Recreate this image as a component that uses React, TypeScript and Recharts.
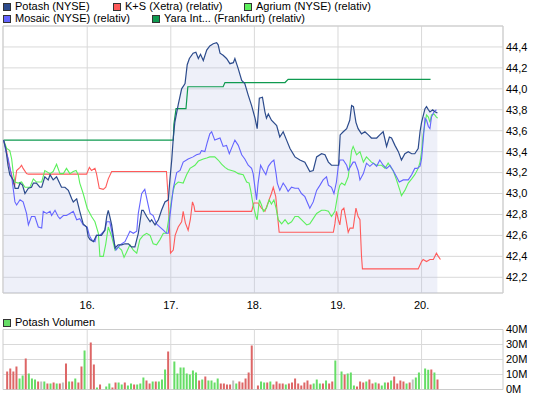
import React from 'react';
import {
  ComposedChart,
  Line,
  Area,
  Bar,
  Cell,
  XAxis,
  YAxis,
  CartesianGrid,
  ReferenceArea,
  ReferenceLine,
} from 'recharts';

const FONT = '"Liberation Sans", Arial, sans-serif';

// x axis: 15-minute trading slots, 27 per day (day 15 starts at 0)
const dayTicks = [27, 54, 81, 108, 135];
const dayLabels = ['16.', '17.', '18.', '19.', '20.'];
const priceTicks = [42.2, 42.4, 42.6, 42.8, 43.0, 43.2, 43.4, 43.6, 43.8, 44.0, 44.2, 44.4];
const volumeTicks = [0, 10, 20, 30, 40];
const X_DOMAIN: [number, number] = [-0.2, 161.3];
const Y_DOMAIN: [number, number] = [42.05, 44.6];
const V_DOMAIN: [number, number] = [0, 40];

// [slot, value]
const potash: [number, number][] = [
  [0, 43.51], [0.7, 43.43], [1.4, 43.27], [2.0, 43.18], [3.1, 43.13], [3.7, 43.05], [4.7, 43.05], [5.3, 43.1], [6.1, 43.08], [6.9, 43.0],
  [8.0, 43.05], [9.0, 43.06], [9.6, 43.1], [10.6, 43.1], [11.7, 43.06], [12.3, 43.06], [13.3, 43.16], [14.4, 43.13], [15.0, 43.18], [16.0, 43.13],
  [17.1, 43.16], [17.6, 43.13], [18.7, 43.06], [19.8, 43.06], [20.9, 43.03], [22.0, 42.95], [22.5, 42.92], [23.6, 42.95], [24.6, 42.83], [25.7, 42.71],
  [26.8, 42.68], [27.3, 42.59], [27.9, 42.56], [29.0, 42.54], [30.0, 42.6], [31.6, 42.6], [32.7, 42.65], [33.3, 42.78], [33.8, 42.84], [34.3, 42.78],
  [34.9, 42.7], [36.0, 42.48], [37.0, 42.51], [38.1, 42.51], [39.2, 42.52], [40.3, 42.52], [41.3, 42.49], [42.4, 42.49], [43.5, 42.62], [44.6, 42.84],
  [45.1, 42.84], [46.2, 42.78], [47.3, 42.73], [47.8, 42.75], [48.9, 42.7], [50.0, 42.75], [51.0, 42.84], [52.1, 42.92], [53.2, 42.94], [53.7, 43.13],
  [54.3, 43.32], [54.8, 43.53], [55.3, 43.68], [56.4, 43.85], [57.5, 44.0], [58.6, 44.05], [59.3, 44.23], [60.0, 44.29], [61.2, 44.34], [62.1, 44.35],
  [62.9, 44.29], [63.6, 44.33], [64.5, 44.27], [65.6, 44.37], [66.6, 44.41], [67.7, 44.43], [68.8, 44.44], [69.3, 44.42], [69.9, 44.34], [70.9, 44.32],
  [72.0, 44.29], [73.1, 44.24], [74.2, 44.25], [74.7, 44.29], [75.8, 44.19], [76.9, 44.08], [77.9, 44.05], [79.0, 43.94], [80.1, 43.84], [81.2, 43.72],
  [81.9, 43.62], [82.6, 43.91], [83.6, 43.92], [84.4, 43.78], [84.9, 43.72], [85.5, 43.76], [86.5, 43.7], [88.2, 43.65], [89.2, 43.54], [90.3, 43.59],
  [91.4, 43.51], [92.5, 43.43], [94.1, 43.35], [95.7, 43.32], [97.3, 43.3], [98.9, 43.21], [100.0, 43.22], [101.1, 43.35], [102.7, 43.38], [103.8, 43.37],
  [104.9, 43.3], [105.9, 43.27], [107.5, 43.27], [108.2, 43.27], [108.7, 43.56], [109.7, 43.59], [110.8, 43.62], [111.8, 43.7], [112.4, 43.84], [113.0, 43.83],
  [113.8, 43.68], [114.5, 43.62], [115.6, 43.57], [116.7, 43.59], [117.8, 43.56], [118.8, 43.53], [120.5, 43.53], [121.5, 43.56], [122.6, 43.59], [123.7, 43.45],
  [124.6, 43.54], [125.3, 43.53], [126.4, 43.46], [127.5, 43.4], [128.5, 43.32], [129.6, 43.38], [130.7, 43.4], [131.8, 43.38], [132.8, 43.38], [133.9, 43.43],
  [134.5, 43.59], [135.0, 43.68], [136.1, 43.81], [136.6, 43.83], [137.2, 43.8], [137.7, 43.78], [138.6, 43.8], [139.3, 43.78], [140.1, 43.77],
];

const yaraRel: [number, number][] = [
  [0, 43.51], [54.8, 43.51], [55.0, 43.66], [55.7, 43.81], [58.9, 43.81], [59.5, 44.02], [70.9, 44.02], [71.5, 44.06],
  [90.9, 44.06], [91.9, 44.09], [137.9, 44.09],
];

const ksRel: [number, number][] = [
  [0, 43.51], [1.0, 43.4], [1.5, 43.3], [2.6, 43.18], [3.1, 43.1], [3.6, 43.08], [4.2, 43.22], [5.3, 43.25], [5.8, 43.27], [6.3, 43.24],
  [7.4, 43.19], [8.0, 43.185], [26.8, 43.185], [27.7, 43.25], [28.4, 43.22], [29.5, 43.24], [30.0, 43.19], [30.9, 43.05], [32.2, 43.04], [33.0, 43.06],
  [33.8, 43.14], [34.9, 43.21], [52.6, 43.21], [53.2, 42.94], [53.9, 42.43], [54.8, 42.46], [55.4, 42.6], [56.4, 42.68], [57.5, 42.73], [58.0, 42.83],
  [58.7, 42.72], [59.6, 42.65], [60.3, 42.75], [61.0, 42.92], [61.5, 42.88], [61.8, 42.83], [80.1, 42.83], [80.8, 42.91], [82.2, 42.91], [83.3, 42.86],
  [84.4, 42.83], [85.5, 42.92], [86.5, 43.0], [87.1, 43.06], [87.9, 42.97], [88.4, 42.81], [89.0, 42.63], [106.5, 42.63], [107.0, 42.71], [107.5, 42.83],
  [108.1, 42.75], [108.6, 42.7], [109.2, 42.84], [109.9, 42.86], [110.6, 42.75], [111.3, 42.63], [111.9, 42.67], [112.9, 42.67], [113.8, 42.86], [114.5, 42.78],
  [115.1, 42.75], [115.6, 42.4], [115.9, 42.28], [133.9, 42.28], [135.0, 42.35], [135.5, 42.37], [136.6, 42.35], [137.7, 42.37], [138.8, 42.37], [139.8, 42.43],
  [140.4, 42.4], [141.1, 42.37],
];

const agriumRel: [number, number][] = [
  [0, 43.51], [1.0, 43.43], [2.0, 43.41], [2.6, 43.33], [3.1, 43.2], [3.65, 43.11], [4.7, 43.1], [5.8, 43.11], [6.9, 43.06], [8.5, 43.06],
  [9.6, 43.14], [10.6, 43.11], [12.3, 43.11], [13.3, 43.22], [15.0, 43.19], [16.0, 43.21], [17.1, 43.28], [18.2, 43.19], [19.3, 43.19], [20.3, 43.24],
  [21.4, 43.19], [22.5, 43.21], [23.4, 43.22], [24.1, 43.18], [24.6, 43.1], [25.7, 43.0], [27.0, 42.86], [28.4, 42.78], [29.5, 42.73], [30.6, 42.62],
  [31.1, 42.4], [32.2, 42.4], [33.0, 42.52], [33.8, 42.68], [34.9, 42.59], [36.0, 42.46], [37.0, 42.49], [38.1, 42.46], [38.9, 42.39], [39.7, 42.44],
  [40.8, 42.51], [41.9, 42.46], [43.0, 42.43], [44.0, 42.56], [45.1, 42.6], [46.2, 42.62], [47.3, 42.6], [48.3, 42.52], [49.4, 42.51], [50.5, 42.56],
  [51.6, 42.62], [52.6, 42.62], [53.7, 42.83], [54.3, 42.95], [54.8, 43.03], [55.3, 43.08], [56.4, 43.11], [58.0, 43.1], [59.1, 43.18], [60.2, 43.24],
  [61.8, 43.27], [62.9, 43.31], [64.5, 43.33], [65.6, 43.34], [66.6, 43.35], [68.2, 43.35], [69.3, 43.32], [70.4, 43.28], [71.5, 43.25], [72.5, 43.23],
  [73.6, 43.22], [74.7, 43.21], [75.8, 43.19], [77.4, 43.18], [78.5, 43.11], [79.3, 43.1], [79.8, 43.03], [80.6, 42.89], [81.5, 42.78], [81.9, 42.75],
  [82.6, 42.94], [83.3, 42.89], [83.9, 42.83], [84.9, 42.86], [85.8, 42.94], [86.5, 42.9], [87.3, 42.94], [88.0, 42.86], [88.7, 42.75], [89.8, 42.71],
  [90.9, 42.75], [91.9, 42.71], [93.0, 42.73], [94.1, 42.78], [95.2, 42.78], [96.2, 42.75], [97.9, 42.7], [98.9, 42.71], [100.0, 42.76], [101.1, 42.81],
  [102.7, 42.84], [103.8, 42.84], [104.9, 42.83], [105.9, 42.78], [107.0, 42.83], [108.1, 43.02], [108.6, 43.08], [109.2, 43.1], [110.2, 43.08], [111.3, 43.16],
  [111.9, 43.29], [112.4, 43.41], [112.9, 43.45], [114.0, 43.37], [115.1, 43.4], [116.2, 43.3], [117.2, 43.35], [118.8, 43.3], [120.5, 43.27], [122.1, 43.27],
  [123.2, 43.24], [124.2, 43.29], [125.3, 43.24], [125.8, 43.22], [126.9, 43.13], [128.0, 43.03], [128.5, 42.98], [129.6, 43.03], [130.7, 43.1], [131.8, 43.14],
  [132.8, 43.18], [133.9, 43.24], [134.5, 43.3], [135.0, 43.4], [135.5, 43.56], [136.1, 43.67], [136.6, 43.75], [137.2, 43.73], [137.7, 43.68], [138.2, 43.75],
  [139.0, 43.76], [139.8, 43.73], [140.2, 43.72],
];

const mosaicRel: [number, number][] = [
  [0, 43.51], [0.7, 43.41], [1.5, 43.33], [2.6, 43.16], [3.65, 42.92], [4.2, 42.89], [5.3, 42.94], [6.3, 42.92], [7.4, 42.81], [8.0, 42.7],
  [9.0, 42.78], [10.1, 42.78], [11.2, 42.68], [12.3, 42.67], [12.8, 42.83], [13.9, 42.81], [15.0, 42.83], [15.5, 42.79], [16.6, 42.84], [17.6, 42.78],
  [18.2, 42.76], [19.3, 42.79], [20.3, 42.79], [21.4, 42.81], [22.5, 42.83], [23.6, 42.75], [24.6, 42.76], [25.7, 42.7], [27.0, 42.68], [27.7, 42.6],
  [28.4, 42.56], [29.5, 42.54], [30.0, 42.6], [31.1, 42.6], [32.7, 42.65], [33.3, 42.73], [34.3, 42.73], [35.4, 42.57], [36.3, 42.46], [37.6, 42.51],
  [39.2, 42.54], [40.8, 42.64], [41.9, 42.62], [43.0, 42.64], [43.5, 42.81], [44.6, 43.0], [45.6, 43.04], [46.7, 42.89], [47.3, 42.81], [48.3, 42.79],
  [49.4, 42.71], [50.5, 42.68], [51.6, 42.65], [52.6, 42.62], [53.2, 42.62], [53.7, 42.78], [54.8, 43.05], [55.9, 43.2], [57.0, 43.22], [58.0, 43.3],
  [59.6, 43.33], [61.2, 43.35], [62.3, 43.37], [63.4, 43.38], [63.9, 43.41], [65.0, 43.4], [65.8, 43.49], [66.6, 43.57], [67.2, 43.59], [68.2, 43.51],
  [69.9, 43.53], [70.9, 43.45], [72.0, 43.46], [72.9, 43.38], [74.0, 43.46], [74.7, 43.51], [75.8, 43.46], [76.9, 43.37], [77.9, 43.33], [79.0, 43.27],
  [80.1, 43.24], [80.6, 43.19], [81.7, 42.94], [82.2, 43.1], [83.0, 43.27], [83.9, 43.22], [84.7, 43.18], [85.5, 43.26], [86.5, 43.3], [87.3, 43.32],
  [88.0, 43.19], [88.4, 43.1], [89.2, 43.03], [90.3, 43.1], [91.2, 43.06], [91.9, 43.02], [93.0, 43.06], [94.1, 43.05], [95.2, 43.05], [96.2, 43.0],
  [97.3, 42.97], [98.9, 42.86], [100.0, 42.92], [101.1, 43.03], [102.2, 43.08], [103.2, 43.13], [104.3, 43.16], [104.9, 43.08], [105.9, 43.06], [106.7, 43.0],
  [107.5, 43.11], [108.1, 43.26], [108.6, 43.32], [109.7, 43.32], [110.8, 43.27], [111.3, 43.22], [111.9, 43.25], [112.9, 43.3], [113.5, 43.3], [114.5, 43.22],
  [115.1, 43.13], [116.2, 43.19], [117.2, 43.29], [118.3, 43.26], [119.4, 43.29], [120.5, 43.26], [121.5, 43.32], [122.6, 43.27], [123.7, 43.24], [124.8, 43.27],
  [125.8, 43.22], [126.9, 43.16], [127.8, 43.11], [129.1, 43.13], [130.7, 43.13], [131.8, 43.18], [132.8, 43.24], [133.6, 43.24], [134.5, 43.26], [135.0, 43.33],
  [135.5, 43.5], [136.1, 43.72], [136.6, 43.7], [137.2, 43.64], [137.7, 43.62], [138.2, 43.73], [139.0, 43.78], [139.8, 43.8],
];

// Potash volume per 15-min bar, in millions; colour code r = down, g = up, n = unchanged
const vol15 = [12.0, 14.0, 12.0, 15.3, 7.3, 9.3, 20.7, 10.7, 7.3, 6.7, 5.3, 5.3, 5.3, 4.0, 4.0, 4.7, 4.0, 4.0, 4.7, 17.3, 5.3, 5.3, 7.3, 4.7, 15.3, 26.0];
const vol16 = [31.3, 16.7, 1.3, 3.3, 0, 2.0, 4.0, 1.3, 4.7, 4.7, 3.3, 4.7, 2.7, 4.0, 3.3, 3.3, 4.0, 8.0, 6.0, 4.0, 5.3, 5.3, 5.3, 6.7, 13.3, 25.3];
const vol17 = [18.7, 10.7, 14.7, 14.7, 10.7, 10.0, 12.7, 11.3, 6.0, 6.7, 8.7, 6.0, 6.0, 4.7, 7.3, 4.0, 4.0, 3.3, 3.3, 6.0, 4.0, 5.3, 4.7, 7.3, 11.3, 29.3];
const vol18 = [2.7, 5.3, 4.7, 4.7, 5.3, 3.3, 5.3, 4.0, 4.0, 3.3, 4.0, 4.7, 7.3, 4.0, 2.7, 4.7, 6.0, 3.3, 4.0, 6.7, 4.0, 4.0, 6.0, 4.0, 5.3, 19.3];
const vol19 = [12.0, 10.0, 10.7, 11.3, 2.7, 2.0, 5.3, 4.7, 5.3, 6.7, 4.0, 4.7, 4.0, 2.7, 4.7, 4.7, 6.0, 8.7, 4.0, 6.0, 5.3, 4.0, 4.7, 6.7, 8.0, 11.3];
const vol20 = [14.0, 13.1, 13.3, 11.3, 6.7];
const col15 = 'rrrrggrgggrngrgrgrnrgrgrrg';
const col16 = 'rrgrnggrrggrggrgggrrgrgggr';
const col17 = 'ggggggggrgrggggrrrrngrrrrr';
const col18 = 'rggrgrrrrgrrrrrrrrgggrgrrg';
const col19 = 'grgggrrrgrrgrggrgrrrrgrngg';
const col20 = 'ggrgr';

const SERIES = {
  potash: { name: 'Potash (NYSE)', color: '#2c4b8c' },
  ks: { name: 'K+S (Xetra) (relativ)', color: '#ff5a5a' },
  agrium: { name: 'Agrium (NYSE) (relativ)', color: '#5cf05c' },
  mosaic: { name: 'Mosaic (NYSE) (relativ)', color: '#6464ff' },
  yara: { name: 'Yara Int... (Frankfurt) (relativ)', color: '#0f9a50' },
};
const BAR_COLORS: Record<string, string> = { r: '#dd6666', g: '#66dd66', n: '#c0c0c0' };
const GRID = '#d9d9d9';

const toPts = (arr: [number, number][]) => arr.map(([t, v]) => ({ t, v }));

const volumeData = [vol15, vol16, vol17, vol18, vol19, vol20].flatMap((arr, d) => {
  const cols = [col15, col16, col17, col18, col19, col20][d];
  return arr.map((v, s) => ({ t: d * 27 + s + 1, v, c: cols[s] }));
});

const tickStyle = { fill: '#000', fontSize: 11, fontFamily: FONT };

function LegendItem({ x, y, color, label }: { x: number; y: number; color: string; label: string }) {
  return (
    <>
      <div
        style={{
          position: 'absolute',
          left: x,
          top: y + 3,
          width: 6,
          height: 6,
          background: color,
          border: '1px solid #333',
        }}
      />
      <div
        style={{
          position: 'absolute',
          left: x + 12,
          top: y,
          fontSize: 11,
          lineHeight: '13px',
          fontFamily: FONT,
          color: '#000',
          whiteSpace: 'nowrap',
        }}
      >
        {label}
      </div>
    </>
  );
}

export default function App() {
  return (
    <div style={{ position: 'absolute', left: 0, top: 0, width: 545, height: 398, background: '#fff', overflow: 'hidden' }}>
      <LegendItem x={3} y={0} color={SERIES.potash.color} label={SERIES.potash.name} />
      <LegendItem x={113} y={0} color={SERIES.ks.color} label={SERIES.ks.name} />
      <LegendItem x={244} y={0} color={SERIES.agrium.color} label={SERIES.agrium.name} />
      <LegendItem x={3} y={12} color={SERIES.mosaic.color} label={SERIES.mosaic.name} />
      <LegendItem x={152} y={12} color={SERIES.yara.color} label={SERIES.yara.name} />

      <div style={{ position: 'absolute', left: 0, top: 0 }}>
        <ComposedChart width={545} height={310} margin={{ top: 26, right: 0, bottom: 0, left: 3 }}>
          <CartesianGrid stroke={GRID} />
          <XAxis
            type="number"
            dataKey="t"
            domain={X_DOMAIN}
            ticks={dayTicks}
            interval={0}
            allowDataOverflow
            tickFormatter={(v: number) => dayLabels[dayTicks.indexOf(v)]}
            axisLine={false}
            tickLine={false}
            tickSize={0}
            tickMargin={8}
            height={17}
            tick={tickStyle}
          />
          <YAxis
            orientation="right"
            type="number"
            domain={Y_DOMAIN}
            ticks={priceTicks}
            interval={0}
            allowDataOverflow
            tickFormatter={(v: number) => v.toFixed(1).replace('.', ',')}
            axisLine={false}
            tickLine={false}
            tickSize={0}
            tickMargin={3}
            width={42}
            tick={tickStyle}
          />
          <ReferenceArea
            x1={X_DOMAIN[0]}
            x2={X_DOMAIN[1]}
            y1={Y_DOMAIN[0]}
            y2={Y_DOMAIN[1]}
            fill="none"
            stroke="#cccccc"
          />
          <Area
            data={toPts(potash)}
            dataKey="v"
            type="linear"
            stroke="none"
            fill="#b4c0e6"
            fillOpacity={0.23}
            dot={false}
            activeDot={false}
            isAnimationActive={false}
          />
          <Line data={toPts(yaraRel)} dataKey="v" type="linear" stroke={SERIES.yara.color} strokeWidth={1.2} dot={false} activeDot={false} isAnimationActive={false} />
          <Line data={toPts(ksRel)} dataKey="v" type="linear" stroke={SERIES.ks.color} strokeWidth={1.1} dot={false} activeDot={false} isAnimationActive={false} />
          <Line data={toPts(agriumRel)} dataKey="v" type="linear" stroke={SERIES.agrium.color} strokeWidth={1.1} dot={false} activeDot={false} isAnimationActive={false} />
          <Line data={toPts(mosaicRel)} dataKey="v" type="linear" stroke={SERIES.mosaic.color} strokeWidth={1.1} dot={false} activeDot={false} isAnimationActive={false} />
          <Line data={toPts(potash)} dataKey="v" type="linear" stroke={SERIES.potash.color} strokeWidth={1.2} dot={false} activeDot={false} isAnimationActive={false} />
        </ComposedChart>
      </div>

      <LegendItem x={3} y={316} color="#66dd66" label="Potash Volumen" />

      <div style={{ position: 'absolute', left: 0, top: 318 }}>
        <ComposedChart width={545} height={80} data={volumeData} margin={{ top: 11.5, right: 0, bottom: 8.5, left: 3 }}>
          <CartesianGrid stroke={GRID} vertical={false} />
          <XAxis type="number" dataKey="t" domain={X_DOMAIN} allowDataOverflow hide />
          <YAxis
            orientation="right"
            type="number"
            domain={V_DOMAIN}
            ticks={volumeTicks}
            interval={0}
            allowDataOverflow
            tickFormatter={(v: number) => `${v}M`}
            axisLine={false}
            tickLine={false}
            tickSize={0}
            tickMargin={3}
            width={42}
            tick={tickStyle}
          />
          {dayTicks.map((d) => (
            <ReferenceLine key={d} x={d} stroke={GRID} />
          ))}
          <ReferenceArea
            x1={X_DOMAIN[0]}
            x2={X_DOMAIN[1]}
            y1={V_DOMAIN[0]}
            y2={V_DOMAIN[1]}
            fill="none"
            stroke="#cccccc"
          />
          <Bar dataKey="v" barSize={2} isAnimationActive={false}>
            {volumeData.map((e, i) => (
              <Cell key={i} fill={BAR_COLORS[e.c]} />
            ))}
          </Bar>
        </ComposedChart>
      </div>
    </div>
  );
}
